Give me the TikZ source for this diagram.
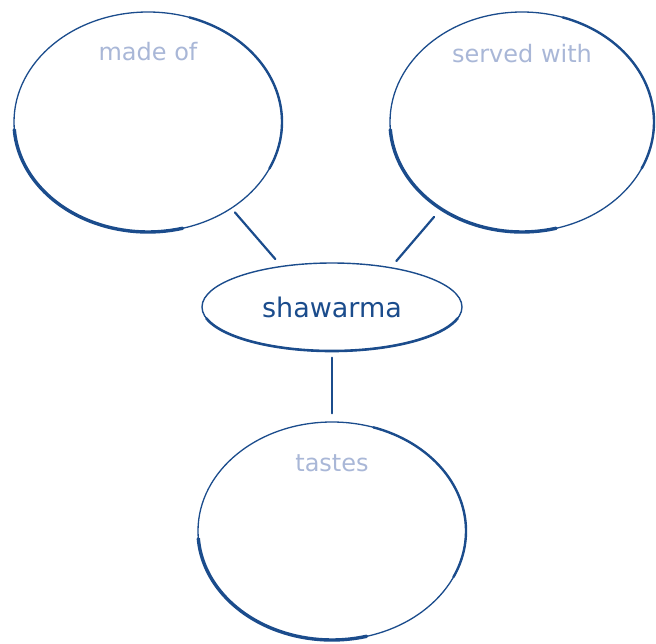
\documentclass[tikz,border=0pt]{standalone}
\usepackage{fontspec}
\setmainfont{DejaVu Sans}
\usetikzlibrary{positioning,shapes.geometric}
\definecolor{ink}{HTML}{1B4C8C}
\definecolor{pale}{HTML}{A9B7D7}
\tikzset{
  bubble/.style={ellipse, draw=ink, line width=1.3pt, inner sep=0pt,
    minimum width=268pt, minimum height=220pt},
  hub/.style={ellipse, draw=ink, line width=1.4pt, inner sep=0pt,
    minimum width=260pt, minimum height=88pt, text=ink, font=\fontsize{27}{30}\selectfont},
  tag/.style={inner sep=0pt, text=pale, font=\fontsize{24}{28}\selectfont},
  brush/.style={draw=ink, line width=3.4pt, line cap=round},
  link/.style={draw=ink, line width=2.2pt, line cap=round}
}
\begin{document}
\begin{tikzpicture}[node distance=2cm, on grid]
  \useasboundingbox (0pt,0pt) rectangle (656pt,-643pt);
  % centre and the three bubbles round it
  \node[hub] (sh) at (332pt,-307pt) {shawarma};
  \node[bubble] (mo) [above left=185pt and 184pt of sh] {};
  \node[bubble, minimum width=264pt] (sw) [above right=185pt and 190pt of sh] {};
  \node[bubble, minimum height=218pt] (ta) [below=224pt of sh] {};
  \node[tag] (mo-t) [below=31pt of mo.north] {made of};
  \node[tag] (sw-t) [below=33pt of sw.north] {served with};
  \node[tag] (ta-t) [below=33pt of ta.north] {tastes};
  % heavier brush strokes
  \foreach \n/\a/\b in {mo/134/110, sw/132/110, ta/134/109} {
    \draw[brush] (\n.center) ++(184:\a pt and \b pt)
      arc[start angle=184, end angle=285, x radius=\a pt, y radius=\b pt];
    \draw[brush, line width=2.4pt] (\n.center) ++(-25:\a pt and \b pt)
      arc[start angle=-25, end angle=72, x radius=\a pt, y radius=\b pt];
  }
  \draw[brush, line width=2.6pt] (sh.center) ++(195:130pt and 44pt)
    arc[start angle=195, end angle=345, x radius=130pt, y radius=44pt];
  % connectors
  \draw[link, shorten <=5pt, shorten >=9pt] (mo.-46) -- (sh.141);
  \draw[link, shorten <=10pt, shorten >=8pt] (sw.227) -- (sh.34);
  \draw[link, shorten <=6pt, shorten >=8pt] (sh.south) -- (ta.north);
\end{tikzpicture}
\end{document}
